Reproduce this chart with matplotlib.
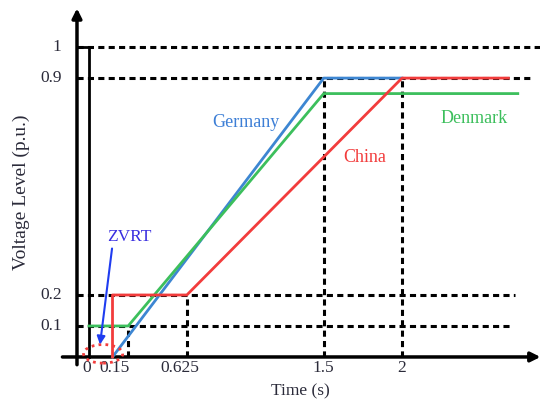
import matplotlib.pyplot as plt
from matplotlib.patches import Ellipse

# curve data (time in s, voltage in p.u.)
germany_t = [0.15, 1.5, 2.0]
germany_v = [0.0, 0.9, 0.9]
denmark_t = [0.0, 0.25, 1.5, 2.74]
denmark_v = [0.1, 0.1, 0.85, 0.85]
china_t = [0.15, 0.15, 0.625, 2.0, 2.68]
china_v = [0.0, 0.2, 0.2, 0.9, 0.9]

# reference levels and their dashed extent
levels = [1.0, 0.9, 0.2, 0.1]
level_ends = [2.88, 2.82, 2.72, 2.69]
# vertical dashed markers: time, top level
marks_t = [0.25, 0.625, 1.5, 2.0]
marks_v = [0.1, 0.2, 0.9, 0.9]

xtick_vals = [0, 0.15, 0.625, 1.5, 2]
xtick_labels = ["0", "0.15", "0.625", "1.5", "2"]
ytick_vals = [1, 0.9, 0.2, 0.1]
ytick_labels = ["1", "0.9", "0.2", "0.1"]

plt.rcParams["font.family"] = ["Liberation Serif", "DejaVu Serif"]
txt = "#2b2b3a"

fig = plt.figure(figsize=(5.4, 4.05), dpi=100)
ax = fig.add_axes([0, 0, 1, 1])
ax.set_xlim(-0.569, 2.882)
ax.set_ylim(-0.155, 1.152)
ax.axis("off")

yaxis_t = -0.077
dash = (0, (2.0, 1.4))

# dashed guides
for lv, end in zip(levels, level_ends):
    ax.plot([yaxis_t, end], [lv, lv], color="k", lw=2.2, linestyle=dash, zorder=1)
for mt, mv in zip(marks_t, marks_v):
    ax.plot([mt, mt], [0, mv], color="k", lw=2.2, linestyle=dash, zorder=1)

# solid line at t = 0
ax.plot([0, 0], [0, 1], color="k", lw=2, zorder=2)
ax.plot([yaxis_t, 0], [1, 1], color="k", lw=2, zorder=2)

# axes with arrows
ax.annotate("", xy=(2.885, 0), xytext=(-0.17, 0),
            arrowprops=dict(arrowstyle="-|>", lw=2.5, color="k", mutation_scale=14,
                            shrinkA=0, shrinkB=0), zorder=3)
ax.annotate("", xy=(yaxis_t, 1.125), xytext=(yaxis_t, -0.025),
            arrowprops=dict(arrowstyle="-|>", lw=2.5, color="k", mutation_scale=14,
                            shrinkA=0, shrinkB=0), zorder=3)

# curves
ax.plot(germany_t, germany_v, color="#3d86d2", lw=2, zorder=4)
ax.plot(denmark_t, denmark_v, color="#3cbf5c", lw=2, zorder=4)
ax.plot(china_t, china_v, color="#f23c3c", lw=2, zorder=5)

ax.text(1.0, 0.758, "Germany", color="#3d7fd6", fontsize=13, ha="center", va="center")
ax.text(1.76, 0.645, "China", color="#f23c3c", fontsize=13, ha="center", va="center")
ax.text(2.46, 0.77, "Denmark", color="#3cbf5c", fontsize=13, ha="center", va="center")

# ZVRT annotation
ax.add_patch(Ellipse((0.09, 0.01), 0.25, 0.06, fill=False, edgecolor="#f23c3c",
                     lw=2, linestyle=(0, (1, 1.5)), zorder=6))
ax.text(0.256, 0.387, "ZVRT", color="#3a2fe0", fontsize=12.5, ha="center", va="center")
ax.annotate("", xy=(0.07, 0.04), xytext=(0.147, 0.35),
            arrowprops=dict(arrowstyle="-|>", lw=1.5, color="#1f3cf0", mutation_scale=12,
                            shrinkA=0, shrinkB=0), zorder=7)

# tick labels
xtick_pos = [-0.015, 0.16, 0.58, 1.5, 2.0]
for xp, xl in zip(xtick_pos, xtick_labels):
    ax.text(xp, -0.037, xl, color=txt, fontsize=12.5, ha="center", va="center")
for yv, yl in zip(ytick_vals, ytick_labels):
    ax.text(-0.175, yv, yl, color=txt, fontsize=12.5, ha="right", va="center")

ax.text(1.35, -0.112, "Time (s)", color=txt, fontsize=12.5, ha="center", va="center")
ax.text(-0.43, 0.53, "Voltage Level (p.u.)", color=txt, fontsize=14, ha="center",
        va="center", rotation=90)

fig.savefig("out.png", dpi=100)
